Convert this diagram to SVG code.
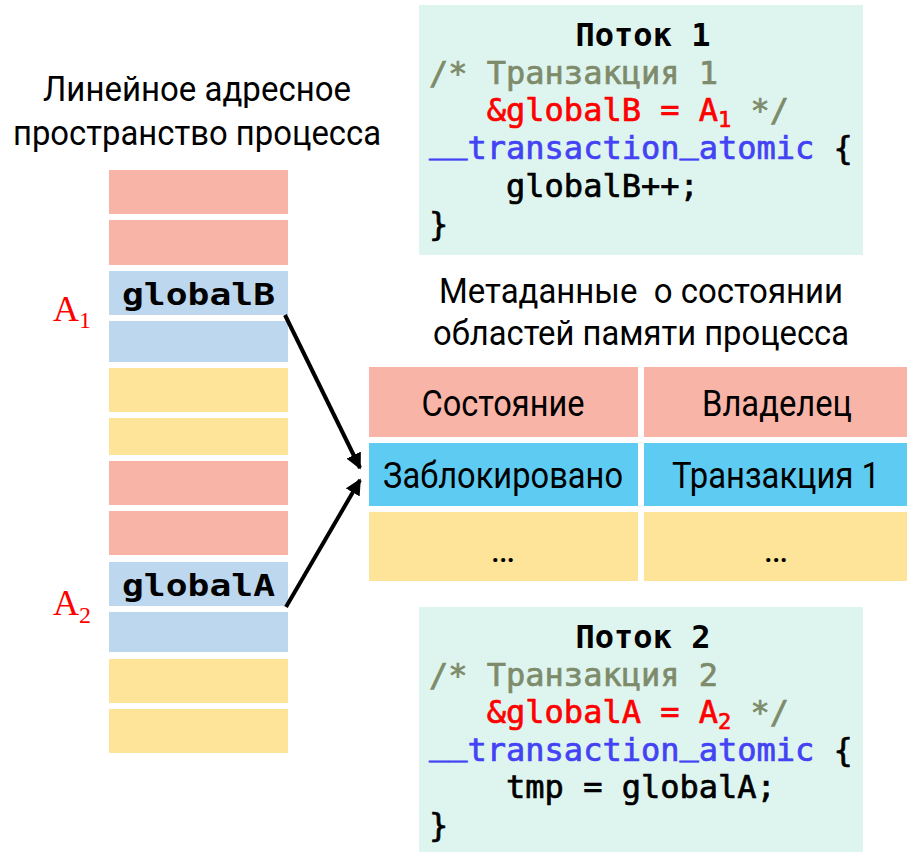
<svg xmlns="http://www.w3.org/2000/svg" width="907" height="852" viewBox="0 0 907 852">
<style>
.pink{fill:#F9B4A8}
.lblue{fill:#BDD7EE}
.yel{fill:#FEE498}
.cyan{fill:#5DCBF2}
.codebg{fill:#DEF5EF}
.h{font-family:Roboto,"Noto Sans",sans-serif;font-size:35px;fill:#000;text-anchor:middle;white-space:pre}
.t{font-family:Roboto,"Noto Sans",sans-serif;font-size:37px;fill:#000;text-anchor:middle}
.var{font-family:"DejaVu Sans Mono",monospace;font-weight:bold;font-size:30px;fill:#000}
.addr{font-family:"Liberation Serif",serif;font-size:36px;fill:#FF0000}
.sub{font-size:24px}
.code{font-family:"DejaVu Sans Mono",monospace;font-size:32px;fill:#000;stroke:#000;stroke-width:0.7px;white-space:pre}
.ttl{font-weight:bold;text-anchor:middle;stroke-width:0}
.cm{fill:#7E8B6B;stroke:#7E8B6B}
.rd{fill:#FF0000;stroke:#FF0000}
.bl{fill:#4343F5;stroke:#4343F5}
.csub{font-size:22px}
.conn{stroke:#000;stroke-width:4;fill:none}
</style>
<defs>
<marker id="ah" viewBox="0 0 10 10" refX="9" refY="5" markerWidth="4" markerHeight="4" orient="auto" markerUnits="strokeWidth">
<path d="M0,0 L10,5 L0,10 z" fill="#000"/>
</marker>
</defs>
<rect width="907" height="852" fill="#fff"/>

<g id="title-address-space">
<text class="h" x="197" y="101" textLength="308" lengthAdjust="spacingAndGlyphs">Линейное адресное</text>
<text class="h" x="197" y="145" textLength="368" lengthAdjust="spacingAndGlyphs">пространство процесса</text>
</g>

<g id="memory-column">
<rect class="pink" x="109" y="170" width="179" height="44"/>
<rect class="pink" x="109" y="220" width="179" height="45"/>
<rect class="lblue" x="109" y="271" width="179" height="44"/>
<rect class="lblue" x="109" y="321" width="179" height="41"/>
<rect class="yel" x="109" y="368" width="179" height="44"/>
<rect class="yel" x="109" y="418" width="179" height="37"/>
<rect class="pink" x="109" y="461" width="179" height="44"/>
<rect class="pink" x="109" y="511" width="179" height="44"/>
<rect class="lblue" x="109" y="562" width="179" height="44"/>
<rect class="lblue" x="109" y="612" width="179" height="40"/>
<rect class="yel" x="109" y="659" width="179" height="44"/>
<rect class="yel" x="109" y="709" width="179" height="44"/>
</g>

<g id="node-globalB">
<text class="var" x="122" y="305" textLength="153" lengthAdjust="spacingAndGlyphs">globalB</text>
<text class="addr" x="53" y="321">A<tspan class="sub" dy="7">1</tspan></text>
</g>

<g id="node-globalA">
<text class="var" x="122" y="596" textLength="153" lengthAdjust="spacingAndGlyphs">globalA</text>
<text class="addr" x="53" y="615">A<tspan class="sub" dy="8">2</tspan></text>
</g>

<g id="thread1">
<rect class="codebg" x="419" y="5" width="444" height="250"/>
<text class="code ttl" x="643" y="46">Поток 1</text>
<text class="code cm" x="429" y="84">/* Транзакция 1</text>
<text class="code" x="429" y="121"><tspan class="rd">   &amp;globalB = A</tspan><tspan class="rd csub" dy="6">1</tspan><tspan class="cm" dy="-6"> */</tspan></text>
<text class="code" x="429" y="159"><tspan class="bl"><tspan dy="-6">__</tspan><tspan dy="6">transaction</tspan><tspan dy="-6">_</tspan><tspan dy="6">atomic</tspan></tspan> {</text>
<text class="code" x="429" y="197">    globalB++;</text>
<text class="code" x="429" y="235">}</text>
</g>

<g id="metadata-title">
<text class="h" x="641" y="303" textLength="404" lengthAdjust="spacingAndGlyphs">Метаданные  о состоянии</text>
<text class="h" x="641" y="345" textLength="416" lengthAdjust="spacingAndGlyphs">областей памяти процесса</text>
</g>

<g id="metadata-table">
<rect class="pink" x="369" y="367" width="269" height="70"/>
<rect class="pink" x="644" y="367" width="263" height="70"/>
<rect class="cyan" x="369" y="443" width="269" height="63"/>
<rect class="cyan" x="644" y="443" width="263" height="63"/>
<rect class="yel" x="369" y="512" width="269" height="69"/>
<rect class="yel" x="644" y="512" width="263" height="69"/>
<text class="t" x="503" y="416" textLength="163" lengthAdjust="spacingAndGlyphs">Состояние</text>
<text class="t" x="777" y="416" textLength="150" lengthAdjust="spacingAndGlyphs">Владелец</text>
<text class="t" x="503" y="488" textLength="240" lengthAdjust="spacingAndGlyphs">Заблокировано</text>
<text class="t" x="776" y="488" textLength="208" lengthAdjust="spacingAndGlyphs">Транзакция 1</text>
<text class="t" x="503" y="562">…</text>
<text class="t" x="776" y="562">…</text>
</g>

<g id="thread2">
<rect class="codebg" x="419" y="607" width="444" height="245"/>
<text class="code ttl" x="643" y="648">Поток 2</text>
<text class="code cm" x="429" y="686">/* Транзакция 2</text>
<text class="code" x="429" y="723"><tspan class="rd">   &amp;globalA = A</tspan><tspan class="rd csub" dy="6">2</tspan><tspan class="cm" dy="-6"> */</tspan></text>
<text class="code" x="429" y="761"><tspan class="bl"><tspan dy="-6">__</tspan><tspan dy="6">transaction</tspan><tspan dy="-6">_</tspan><tspan dy="6">atomic</tspan></tspan> {</text>
<text class="code" x="429" y="798">    tmp = globalA;</text>
<text class="code" x="429" y="836">}</text>
</g>

<g id="connectors">
<line class="conn" x1="285" y1="315" x2="360" y2="468" marker-end="url(#ah)"/>
<line class="conn" x1="286" y1="607" x2="360" y2="480" marker-end="url(#ah)"/>
</g>
</svg>
